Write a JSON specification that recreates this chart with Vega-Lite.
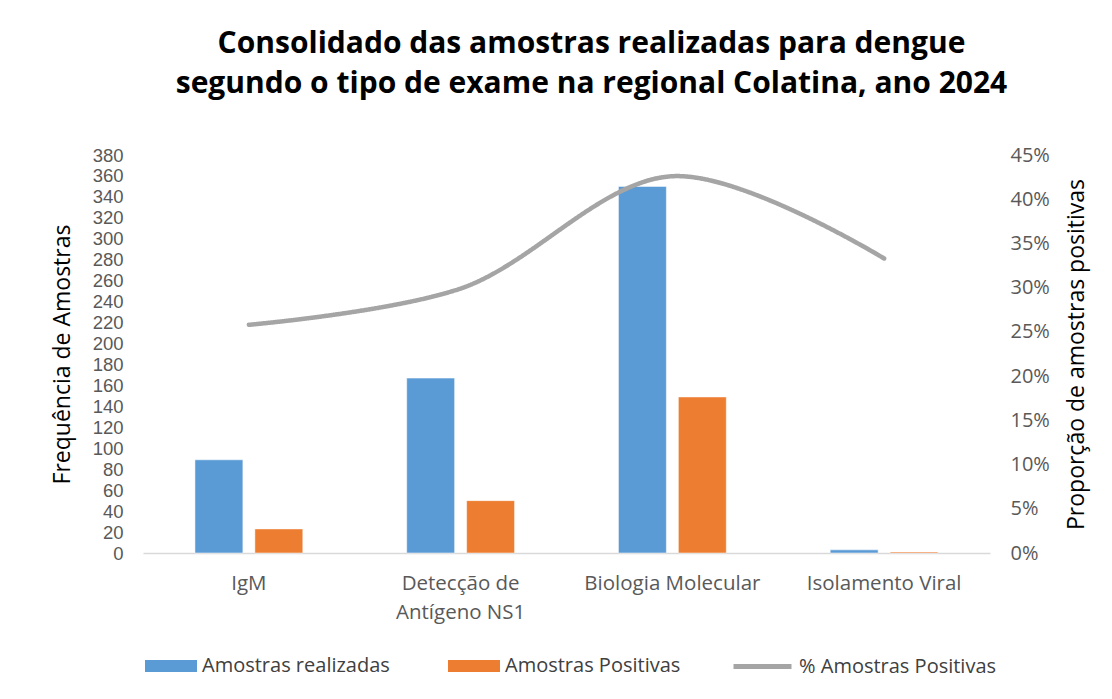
{
  "$schema": "https://vega.github.io/schema/vega-lite/v6.json",
  "autosize": {"type": "none"},
  "width": 847,
  "height": 398,
  "padding": {"left": 143, "top": 155, "right": 122, "bottom": 146},
  "background": "white",
  "config": {
    "view": {"stroke": null},
    "font": "Open Sans"
  },
  "title": {
    "text": ["Consolidado das amostras realizadas para dengue", "segundo o tipo de exame na regional Colatina, ano 2024"],
    "fontSize": 30,
    "fontWeight": "bold",
    "font": "Open Sans",
    "color": "#000000",
    "lineHeight": 40,
    "anchor": "middle",
    "dx": 25,
    "offset": 46
  },
  "datasets": {
    "bars": [
      {"exame": "IgM", "serie": "Amostras realizadas", "valor": 89},
      {"exame": "IgM", "serie": "Amostras Positivas", "valor": 23},
      {"exame": "Detecção de Antígeno NS1", "serie": "Amostras realizadas", "valor": 167},
      {"exame": "Detecção de Antígeno NS1", "serie": "Amostras Positivas", "valor": 50},
      {"exame": "Biologia Molecular", "serie": "Amostras realizadas", "valor": 350},
      {"exame": "Biologia Molecular", "serie": "Amostras Positivas", "valor": 149},
      {"exame": "Isolamento Viral", "serie": "Amostras realizadas", "valor": 3},
      {"exame": "Isolamento Viral", "serie": "Amostras Positivas", "valor": 1}
    ],
    "linha": [
      {"exame": "IgM", "pct": 0.258},
      {"exame": "Detecção de Antígeno NS1", "pct": 0.299},
      {"exame": "Biologia Molecular", "pct": 0.426},
      {"exame": "Isolamento Viral", "pct": 0.333}
    ]
  },
  "encoding": {
    "x": {
      "field": "exame",
      "type": "nominal",
      "sort": ["IgM", "Detecção de Antígeno NS1", "Biologia Molecular", "Isolamento Viral"],
      "scale": {"paddingInner": 0, "paddingOuter": 0},
      "axis": {
        "title": null,
        "labelAngle": 0,
        "ticks": false,
        "domainColor": "#d9d9d9",
        "domainWidth": 1.5,
        "labelColor": "#595959",
        "labelFontSize": 20.5,
        "labelPadding": 20,
        "labelLineHeight": 29,
        "labelLimit": 0,
        "labelExpr": "datum.label == 'Detecção de Antígeno NS1' ? ['Detecção de', 'Antígeno NS1'] : datum.label"
      }
    }
  },
  "layer": [
    {
      "data": {"name": "bars"},
      "mark": {"type": "bar", "stroke": "white", "strokeWidth": 1, "strokeOpacity": 0.5},
      "encoding": {
        "xOffset": {
          "field": "serie",
          "type": "nominal",
          "sort": ["Amostras realizadas", "Amostras Positivas"],
          "scale": {"paddingInner": 0.2, "paddingOuter": 0.867}
        },
        "y": {
          "field": "valor",
          "type": "quantitative",
          "scale": {"domain": [0, 380], "nice": false},
          "axis": {
            "title": "Frequência de Amostras",
            "values": [0,20,40,60,80,100,120,140,160,180,200,220,240,260,280,300,320,340,360,380],
            "grid": false,
            "domain": false,
            "ticks": false,
            "labelColor": "#595959",
            "labelFont": "Liberation Sans",
            "labelFontSize": 18.5,
            "labelPadding": 20,
            "titleFontSize": 23,
            "titleFontWeight": "normal",
            "titleColor": "#000000",
            "titlePadding": 18
          }
        },
        "color": {
          "field": "serie",
          "type": "nominal",
          "scale": {
            "domain": ["Amostras realizadas", "Amostras Positivas"],
            "range": ["#5B9BD5", "#ED7D31"]
          },
          "legend": {
            "title": null,
            "orient": "none",
            "direction": "horizontal",
            "legendX": 2,
            "legendY": 485,
            "symbolType": "M-1,-0.23H1V0.23H-1Z",
            "symbolSize": 2704,
            "symbolOpacity": 1,
            "symbolStrokeWidth": 0,
            "labelFontSize": 20,
            "labelLimit": 0,
            "labelColor": "#404040",
            "labelOffset": 5,
            "columnPadding": 58
          }
        }
      }
    },
    {
      "data": {"name": "linha"},
      "mark": {"type": "line", "interpolate": "catmull-rom", "strokeWidth": 4.5, "strokeCap": "round", "color": "#A5A5A5"},
      "encoding": {
        "y": {
          "field": "pct",
          "type": "quantitative",
          "scale": {"domain": [0, 0.45], "nice": false},
          "axis": {
            "title": "Proporção de amostras  positivas",
            "orient": "right",
            "values": [0,0.05,0.1,0.15,0.2,0.25,0.3,0.35,0.4,0.45],
            "format": ".0%",
            "grid": false,
            "domain": false,
            "ticks": false,
            "labelColor": "#595959",
            "labelFontSize": 20,
            "labelPadding": 20,
            "titleFontSize": 23,
            "titleFontWeight": "normal",
            "titleColor": "#000000",
            "titleAngle": 270,
            "titleBaseline": "top",
            "titlePadding": 16
          }
        },
        "strokeDash": {
          "datum": "% Amostras Positivas",
          "scale": {"domain": ["% Amostras Positivas"], "range": [[1, 0]]},
          "legend": {
            "title": null,
            "orient": "none",
            "legendX": 588,
            "legendY": 480,
            "symbolType": "stroke",
            "symbolSize": 3364,
            "symbolStrokeColor": "#A5A5A5",
            "symbolStrokeWidth": 5,
            "symbolDash": [1, 0],
            "labelFontSize": 20,
            "labelLimit": 0,
            "labelColor": "#404040",
            "labelOffset": 5
          }
        }
      }
    }
  ],
  "resolve": {"scale": {"y": "independent"}}
}
